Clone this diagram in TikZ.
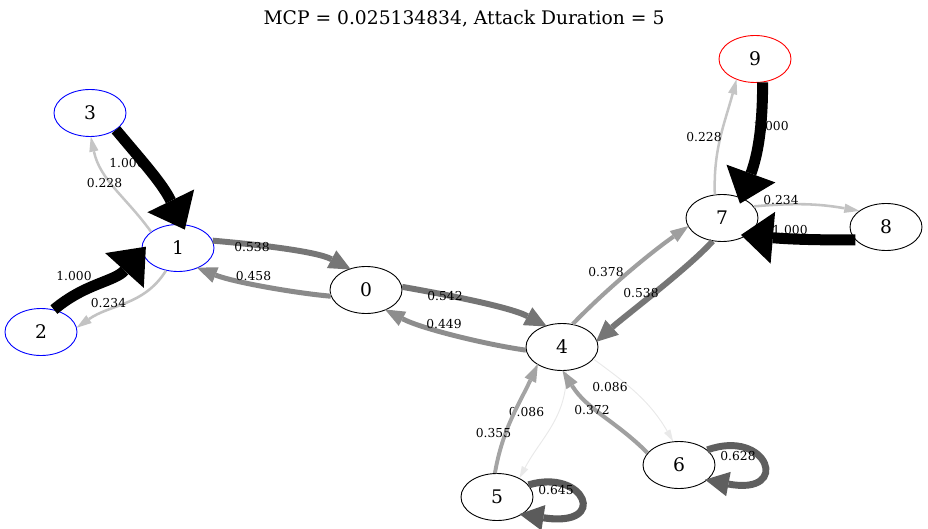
\documentclass[tikz,border=0pt]{standalone}
\usepackage{fontspec}
\setmainfont{DejaVu Serif}
\usetikzlibrary{shapes.geometric,arrows.meta}
\begin{document}
\begin{tikzpicture}[x=1pt,y=1pt,
  nd/.style={ellipse, draw=black, line width=0.9pt, minimum width=72pt, minimum height=47pt, inner sep=0pt, font=\fontsize{18.7}{20}\selectfont},
  lb/.style={font=\fontsize{12.3}{14}\selectfont, inner sep=0pt},
  ed/.code={%
    \pgfmathsetmacro\edlw{max(#1*11,0.9)}%
    \pgfmathsetmacro\edgv{#1*100}%
    \pgfmathsetmacro\edal{10+22*#1}%
    \pgfmathsetmacro\edaw{7+45*#1*#1}%
    \pgfmathsetmacro\edsh{-6*#1*#1}%
    \tikzset{line width=\edlw pt, draw=black!\edgv, shorten >=\edsh pt, -{Triangle[length=\edal pt, width=\edaw pt, line width=0pt]}}%
  }
]
\useasboundingbox (0,0) rectangle (928,528);
\node[font=\fontsize{18.7}{20}\selectfont] (title) at (464,509) {MCP = 0.025134834, Attack Duration = 5};
\node[nd] (n0) at (366,238) {0};
\node[nd, draw=blue] (n1) at (178,280) {1};
\node[nd, draw=blue] (n2) at (41,196) {2};
\node[nd, draw=blue] (n3) at (90,415) {3};
\node[nd] (n4) at (562,181) {4};
\node[nd] (n5) at (497,31) {5};
\node[nd] (n6) at (679,63) {6};
\node[nd] (n7) at (722,310) {7};
\node[nd] (n8) at (886,301) {8};
\node[nd, draw=red] (n9) at (755,469) {9};
% labels hidden partly under edges
\node[lb] (l31) at (127,365) {1.000};
\node[lb] (l21) at (74,252) {1.000};
\node[lb] (l97) at (771,402.3) {1.000};
\node[lb] (l87) at (790,298) {1.000};
\node[lb] (l45) at (526.5,116.3) {0.086};
% edges
\draw[ed=1] (n3.-33) to[out=-50,in=116] (n1.80);
\draw[ed=0.228] (n1.149) to[out=126,in=-78] (n3.-88);
\draw[ed=1] (n2.60) to[out=40,in=-132] (n1.185);
\draw[ed=0.234] (n1.-118) to[out=-122,in=35] (n2.7);
\draw[ed=0.538] (n1.12) to[out=-5,in=152,looseness=0.7] (n0.128);
\draw[ed=0.458] (n0.190) to[out=175,in=-22,looseness=0.7] (n1.-45);
\draw[ed=0.542] (n0.5) to[out=-10,in=152,looseness=0.7] (n4.128);
\draw[ed=0.449] (n4.185) to[out=172,in=-28,looseness=0.7] (n0.-45);
\draw[ed=0.378] (n4.65) to[out=46,in=-145,looseness=0.8] (n7.194);
\draw[ed=0.538] (n7.-112) to[out=-132,in=42,looseness=0.6] (n4.10);
\draw[ed=0.228] (n7.107) to[out=92,in=-105] (n9.-132);
\draw[ed=1] (n9.-72) to[out=-90,in=70] (n7.45);
\draw[ed=0.234] (n7.20) to[out=5,in=170] (n8.149);
\draw[ed=1] (n8.203) to[out=180,in=-5] (n7.-35);
\draw[ed=0.355] (n5.95) to[out=80,in=-115] (n4.-144);
\draw[ed=0.086] (n4.-80) to[out=-88,in=62] (n5.40);
\draw[ed=0.372] (n6.159) to[out=135,in=-58] (n4.-88);
\draw[ed=0.086] (n4.-21) to[out=-36,in=120] (n6.104);
\draw[ed=0.645] (n5.21) .. controls (585,60) and (610,0) .. (n5.-35);
\draw[ed=0.628] (n6.28) .. controls (768,100) and (792,32) .. (n6.-28);
% other labels
\node[lb] (l13) at (104.5,345.3) {0.228};
\node[lb] (l12) at (108.5,225.3) {0.234};
\node[lb] (l10) at (252,281.3) {0.538};
\node[lb] (l01) at (253.5,252.3) {0.458};
\node[lb] (l04) at (445,232) {0.542};
\node[lb] (l40) at (444,203.7) {0.449};
\node[lb] (l47) at (606,256.3) {0.378};
\node[lb] (l74) at (641,235.3) {0.538};
\node[lb] (l46) at (610,141.3) {0.086};
\node[lb] (l64) at (592,118) {0.372};
\node[lb] (l54) at (493.5,95.3) {0.355};
\node[lb] (l55) at (556,38) {0.645};
\node[lb] (l66) at (738,72) {0.628};
\node[lb] (l79) at (704,391.3) {0.228};
\node[lb] (l78) at (781,328) {0.234};
\end{tikzpicture}
\end{document}
